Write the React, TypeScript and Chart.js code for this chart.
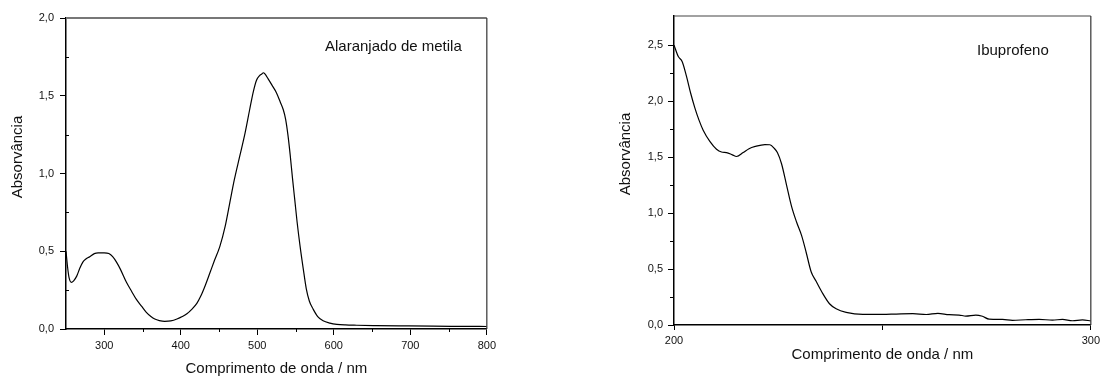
import React, { useEffect, useRef } from "react";
import { Chart, registerables } from "chart.js";

Chart.register(...registerables);

// ---------- DATA ----------
// Alaranjado de metila (methyl orange)
const moWavelength = [
  250, 252, 254, 257, 260, 264, 268, 272, 276, 281, 287, 292, 300, 306, 311, 316, 321, 329,
  336, 342, 349, 355, 361, 366, 372, 379, 387, 395, 402, 408, 414, 421, 426, 432, 438, 444,
  451, 458, 464, 470, 477, 484, 490, 495, 499, 503, 506, 508, 510, 514, 519, 525, 530, 534,
  537, 540, 543, 546, 549, 552, 556, 560, 564, 568, 573, 579, 586, 595, 604, 615, 630, 655,
  690, 730, 770, 800,
];
const moAbsorbance = [
  0.5, 0.4, 0.33, 0.3, 0.31, 0.34, 0.39, 0.43, 0.45, 0.465, 0.485, 0.49, 0.49, 0.485, 0.465,
  0.43, 0.385, 0.3, 0.24, 0.19, 0.145, 0.107, 0.08, 0.064, 0.054, 0.049, 0.052, 0.064, 0.08,
  0.098, 0.125, 0.165, 0.21, 0.28, 0.36, 0.44, 0.53, 0.66, 0.81, 0.96, 1.11, 1.26, 1.41, 1.53,
  1.6, 1.63, 1.64, 1.648, 1.64, 1.61, 1.57, 1.52, 1.46, 1.41, 1.35, 1.25, 1.12, 0.97, 0.83,
  0.69, 0.53, 0.39, 0.26, 0.18, 0.128, 0.08, 0.053, 0.038, 0.03, 0.026, 0.024, 0.022, 0.02,
  0.018, 0.017, 0.016,
];
const moXTicks = [300, 400, 500, 600, 700, 800];
const moXMinor = [350, 450, 550, 650, 750];
const moYTicks = [0, 0.5, 1, 1.5, 2];
const moYMinor = [0.25, 0.75, 1.25, 1.75];

// Ibuprofeno
const ibuWavelength = [
  200, 201, 202, 203, 204, 205, 206, 207, 208.6, 210.2, 211.4, 212.6, 214, 215, 216.6, 218,
  219.5, 221.8, 223, 224, 224.8, 225.8, 227, 228.2, 229.4, 230.6, 231.7, 232.9, 234.1, 235.7,
  237.3, 238.9, 241.3, 245.3, 250, 253.3, 257.3, 260.5, 263.3, 266, 268.4, 270, 272.4, 274,
  275.6, 278.8, 281.2, 284.4, 287.6, 290.8, 293.2, 295.6, 298, 300,
];
const ibuAbsorbance = [
  2.5, 2.4, 2.35, 2.22, 2.07, 1.94, 1.83, 1.74, 1.64, 1.57, 1.545, 1.54, 1.52, 1.505, 1.54,
  1.575, 1.595, 1.612, 1.61, 1.58, 1.54, 1.44, 1.25, 1.06, 0.92, 0.8, 0.65, 0.476, 0.39, 0.28,
  0.19, 0.145, 0.113, 0.095, 0.095, 0.098, 0.101, 0.094, 0.104, 0.092, 0.089, 0.08, 0.089,
  0.078, 0.052, 0.05, 0.042, 0.047, 0.05, 0.044, 0.05, 0.038, 0.046, 0.036,
];
const ibuXTicks = [200, 250, 300];
const ibuXLabelled = [200, 300];
const ibuYTicks = [0, 0.5, 1, 1.5, 2, 2.5];
const ibuYMinor = [0.25, 0.75, 1.25, 1.75, 2.25];

const FONT = "'Liberation Sans', Arial, Helvetica, sans-serif";
const fmtDec = (v: number) => v.toFixed(1).replace(".", ",");

type Decor = {
  xMinor: number[];
  yMinor: number[];
  yMinorInside: boolean;
  topColor: string;
  topWidth: number;
  xTitle: string;
  xTitleBaseline: number;
  yTitle: string;
  yTitleX: number;
  yTitleY: number;
  label: string;
  labelX: number;
  labelY: number;
};

function makeDecor(d: Decor) {
  return {
    id: "decor",
    afterDraw(chart: any) {
      const { ctx, chartArea: ca, scales } = chart;
      const x = scales.x;
      const y = scales.y;
      ctx.save();
      // top border
      ctx.strokeStyle = d.topColor;
      ctx.lineWidth = d.topWidth;
      ctx.beginPath();
      ctx.moveTo(ca.left, ca.top);
      ctx.lineTo(ca.right, ca.top);
      ctx.stroke();
      // right border
      ctx.strokeStyle = "#333";
      ctx.lineWidth = 1.2;
      ctx.beginPath();
      ctx.moveTo(ca.right, ca.top);
      ctx.lineTo(ca.right, ca.bottom);
      ctx.stroke();
      // minor ticks
      ctx.strokeStyle = "#000";
      ctx.lineWidth = 1;
      ctx.beginPath();
      for (const v of d.xMinor) {
        const px = Math.round(x.getPixelForValue(v)) + 0.5;
        ctx.moveTo(px, ca.bottom);
        ctx.lineTo(px, ca.bottom + 3);
      }
      for (const v of d.yMinor) {
        const py = Math.round(y.getPixelForValue(v)) + 0.5;
        ctx.moveTo(ca.left, py);
        ctx.lineTo(d.yMinorInside ? ca.left + 3 : ca.left - 4, py);
      }
      ctx.stroke();
      // titles
      ctx.fillStyle = "#111";
      ctx.font = `15px ${FONT}`;
      ctx.textBaseline = "alphabetic";
      ctx.textAlign = "center";
      ctx.fillText(d.xTitle, (ca.left + ca.right) / 2, d.xTitleBaseline);
      ctx.save();
      ctx.translate(d.yTitleX, d.yTitleY);
      ctx.rotate(-Math.PI / 2);
      ctx.fillText(d.yTitle, 0, 0);
      ctx.restore();
      ctx.textAlign = "left";
      ctx.fillText(d.label, d.labelX, d.labelY);
      ctx.restore();
    },
  };
}

type PanelProps = {
  left: number;
  width: number;
  wavelengths: number[];
  values: number[];
  xMin: number;
  xMax: number;
  yMax: number;
  xTicks: number[];
  xLabelled: number[];
  yTicks: number[];
  yAxisWidth: number;
  xAxisHeight: number;
  padTop: number;
  padRight: number;
  xTickLen: number;
  yTickLen: number;
  xTickPad: number;
  yTickPad: number;
  decor: Decor;
};

function Panel(p: PanelProps) {
  const ref = useRef<HTMLCanvasElement | null>(null);
  useEffect(() => {
    if (!ref.current) return;
    const data = p.wavelengths.map((w, i) => ({ x: w, y: p.values[i] }));
    const chart = new Chart(ref.current, {
      type: "line",
      data: {
        datasets: [
          {
            data,
            borderColor: "#000",
            borderWidth: 1.2,
            pointRadius: 0,
            fill: false,
            cubicInterpolationMode: "monotone",
          },
        ],
      },
      options: {
        responsive: false,
        animation: false,
        devicePixelRatio: 1,
        layout: { padding: { top: p.padTop, right: p.padRight, left: 0, bottom: 0 } },
        plugins: { legend: { display: false }, tooltip: { enabled: false } },
        scales: {
          x: {
            type: "linear",
            min: p.xMin,
            max: p.xMax,
            afterBuildTicks: (s: any) => {
              s.ticks = p.xTicks.map((v) => ({ value: v }));
            },
            afterFit: (s: any) => {
              s.height = p.xAxisHeight;
            },
            ticks: {
              autoSkip: false,
              maxRotation: 0,
              padding: p.xTickPad,
              color: "#111",
              font: { family: FONT, size: 11 },
              callback: (v: any) => (p.xLabelled.includes(Number(v)) ? String(v) : ""),
            },
            grid: {
              display: true,
              drawOnChartArea: false,
              drawTicks: true,
              tickLength: p.xTickLen,
              color: "#000",
              lineWidth: 1,
            },
            border: { display: true, color: "#000", width: 1.5 },
          },
          y: {
            type: "linear",
            min: 0,
            max: p.yMax,
            afterBuildTicks: (s: any) => {
              s.ticks = p.yTicks.map((v) => ({ value: v }));
            },
            afterFit: (s: any) => {
              s.width = p.yAxisWidth;
            },
            ticks: {
              padding: p.yTickPad,
              color: "#111",
              font: { family: FONT, size: 11 },
              callback: (v: any) => fmtDec(Number(v)),
            },
            grid: {
              display: true,
              drawOnChartArea: false,
              drawTicks: true,
              tickLength: p.yTickLen,
              color: "#000",
              lineWidth: 1,
            },
            border: { display: true, color: "#000", width: 1.5 },
          },
        },
      },
      plugins: [makeDecor(p.decor)],
    } as any);
    return () => chart.destroy();
  }, []);
  return (
    <canvas
      ref={ref}
      width={p.width}
      height={376}
      style={{ position: "absolute", left: p.left, top: 0, width: p.width, height: 376 }}
    />
  );
}

export default function App() {
  return (
    <div
      style={{
        position: "absolute",
        left: 0,
        top: 0,
        width: 1104,
        height: 376,
        background: "#fff",
        overflow: "hidden",
      }}
    >
      <Panel
        left={0}
        width={500}
        wavelengths={moWavelength}
        values={moAbsorbance}
        xMin={250}
        xMax={800}
        yMax={2}
        xTicks={moXTicks}
        xLabelled={moXTicks}
        yTicks={moYTicks}
        yAxisWidth={66}
        xAxisHeight={47}
        padTop={18}
        padRight={13}
        xTickLen={6}
        yTickLen={6}
        xTickPad={4}
        yTickPad={6}
        decor={{
          xMinor: moXMinor,
          yMinor: moYMinor,
          yMinorInside: true,
          topColor: "#777",
          topWidth: 2,
          xTitle: "Comprimento de onda / nm",
          xTitleBaseline: 373,
          yTitle: "Absorvância",
          yTitleX: 22,
          yTitleY: 157,
          label: "Alaranjado de metila",
          labelX: 325,
          labelY: 51,
        }}
      />
      <Panel
        left={560}
        width={544}
        wavelengths={ibuWavelength}
        values={ibuAbsorbance}
        xMin={200}
        xMax={300}
        yMax={2.76}
        xTicks={ibuXTicks}
        xLabelled={ibuXLabelled}
        yTicks={ibuYTicks}
        yAxisWidth={114}
        xAxisHeight={51}
        padTop={16}
        padRight={12}
        xTickLen={5}
        yTickLen={6}
        xTickPad={4}
        yTickPad={5}
        decor={{
          xMinor: [],
          yMinor: ibuYMinor,
          yMinorInside: false,
          topColor: "#444",
          topWidth: 1.2,
          xTitle: "Comprimento de onda / nm",
          xTitleBaseline: 359,
          yTitle: "Absorvância",
          yTitleX: 70,
          yTitleY: 154,
          label: "Ibuprofeno",
          labelX: 417,
          labelY: 55,
        }}
      />
    </div>
  );
}
